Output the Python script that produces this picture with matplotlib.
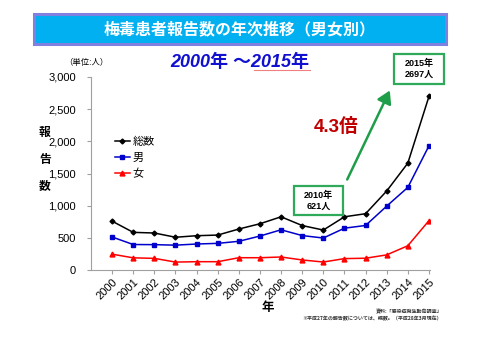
import numpy as np
import matplotlib
matplotlib.use("Agg")
import matplotlib.pyplot as plt
from matplotlib.patches import FancyBboxPatch

years = list(range(2000, 2016))
total = [759, 585, 575, 509, 533, 543, 637, 719, 827, 691, 621, 827, 875, 1228, 1661, 2697]
male = [513, 396, 394, 386, 404, 414, 446, 528, 625, 535, 497, 650, 692, 993, 1284, 1930]
female = [246, 189, 181, 123, 129, 129, 191, 191, 202, 156, 124, 177, 183, 235, 377, 767]
series_labels = ["総数", "男", "女"]
yticks = [0, 500, 1000, 1500, 2000, 2500, 3000]

JP = ["Noto Sans CJK JP", "DejaVu Sans"]
NUM = ["Liberation Sans", "Noto Sans CJK JP"]
plt.rcParams["font.family"] = JP

fig = plt.figure(figsize=(4.8, 3.39), dpi=100)
W, H = 480, 339


def fx(px):
    return px / W


def fy(py):
    return 1 - py / H


# title banner
banner = FancyBboxPatch((fx(34), fy(44)), fx(446) - fx(34), fy(14) - fy(44),
                        boxstyle="square,pad=0", transform=fig.transFigure,
                        facecolor="#00b0f0", edgecolor="#8080e0", lw=2.2)
fig.patches.append(banner)
fig.text(0.5, fy(29.5), "梅毒患者報告数の年次推移（男女別）", ha="center", va="center",
         color="white", fontsize=11.5, fontweight="bold", family=JP)

fig.text(fx(240), fy(62), "2000年 ～2015年", ha="center", va="center", color="#1010d0",
         fontsize=13, fontweight="bold", style="italic", family=NUM)
fig.add_artist(plt.Line2D([fx(254), fx(310)], [fy(70), fy(70)], color="#f08080", lw=0.8,
                          transform=fig.transFigure))

ax = fig.add_axes([fx(91), fy(270), fx(430) - fx(91), fy(77) - fy(270)])
ax.plot(years, total, color="black", marker="D", ms=2.5, lw=1.1, label=series_labels[0])
ax.plot(years, male, color="#0000cc", marker="s", ms=3.5, lw=1.1, label=series_labels[1])
ax.plot(years, female, color="#ff0000", marker="^", ms=3.5, lw=1.1, label=series_labels[2])

ax.set_xlim(1999, 2015.05)
ax.set_ylim(0, 3000)
ax.set_yticks(yticks)
ax.set_yticklabels([f"{v:,}" for v in yticks], family=NUM, fontsize=8)
ax.set_xticks(years)
ax.set_xticklabels([str(y) for y in years], rotation=45, ha="right", rotation_mode="anchor",
                   family=NUM, fontsize=8)
for s in ["top", "right"]:
    ax.spines[s].set_visible(False)
for s in ["left", "bottom"]:
    ax.spines[s].set_color("#a0a0a0")
ax.tick_params(axis="y", length=3, color="#a0a0a0", pad=8)
ax.tick_params(axis="x", length=3, color="#a0a0a0", pad=2)

leg = ax.legend(loc="upper left", bbox_to_anchor=(fx(118) - fx(91), 1 - (132 - 77) / 193),
                bbox_transform=ax.transAxes, frameon=False, fontsize=8, handlelength=1.4,
                handletextpad=0.2, labelspacing=0.55, borderaxespad=0)

fig.text(fx(64), fy(63), "（単位:人）", fontsize=6, ha="left", va="center")
for i, ch in enumerate("報告数"):
    fig.text(fx(45), fy(132 + 27 * i), ch, fontsize=8.5, fontweight="bold",
             ha="center", va="center")
fig.text(fx(268), fy(307), "年", fontsize=9, fontweight="bold", ha="center", va="center")
fig.text(fx(442), fy(312), "資料:「感染症発生動向調査」", fontsize=3.6, ha="right",
         va="center", fontweight="bold", color="#333333")
fig.text(fx(442), fy(319), "※平成27年の報告数については、概数。（平成28年3月現在）",
         fontsize=3.6, ha="right", va="center", fontweight="bold", color="#333333")

green = "#2eaa5a"
for (x0, y0, x1, y1, txt) in [(294, 186, 343, 215, "2010年\n621人"),
                              (394, 54, 444, 84, "2015年\n2697人")]:
    box = FancyBboxPatch((fx(x0), fy(y1)), fx(x1) - fx(x0), fy(y0) - fy(y1),
                         boxstyle="square,pad=0", transform=fig.transFigure,
                         facecolor="white", edgecolor=green, lw=1.6, zorder=5)
    fig.patches.append(box)
    fig.text(fx((x0 + x1) / 2), fy((y0 + y1) / 2), txt, ha="center", va="center",
             fontsize=6.5, fontweight="bold", linespacing=1.3, zorder=6, family=NUM)

fig.add_artist(matplotlib.patches.FancyArrowPatch(
    (fx(346), fy(182)), (fx(391), fy(88)), transform=fig.transFigure,
    arrowstyle="-|>,head_length=5,head_width=3", mutation_scale=1.5,
    color="#1e9e48", lw=1.8))
fig.text(fx(336), fy(127), "4.3倍", ha="center", va="center", color="#c00000",
         fontsize=13.5, fontweight="bold", family=NUM)

fig.savefig("out.png", dpi=100)
